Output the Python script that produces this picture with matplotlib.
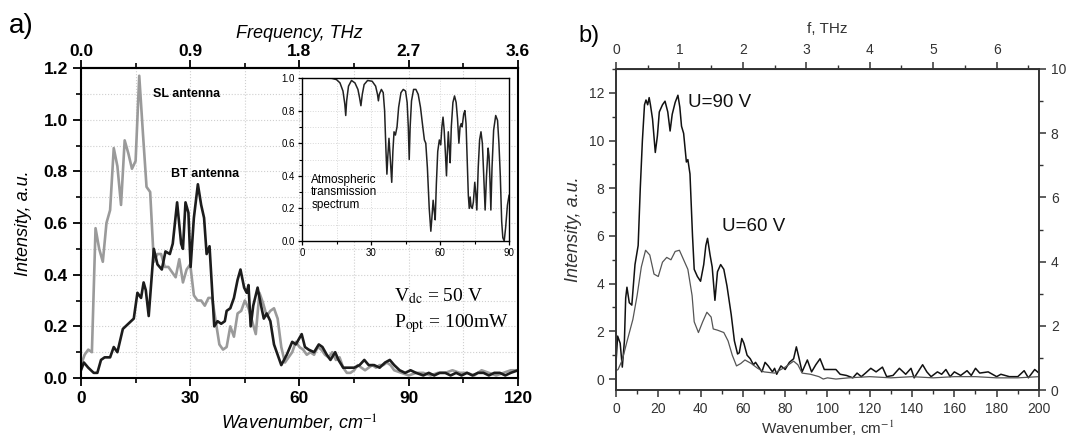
import matplotlib
matplotlib.use("Agg")
import matplotlib.pyplot as plt
from matplotlib.ticker import MultipleLocator

plt.rcParams['font.family'] = ['Liberation Sans', 'DejaVu Sans']
plt.rcParams['mathtext.fontset'] = 'stix'

# ---- panel a: THz emission of SL and BT antennas ----
sl_wn = list(range(0, 87)) + list(range(88, 121, 2))
sl_val = [0.05, 0.09, 0.11, 0.10, 0.58, 0.50, 0.45, 0.60, 0.65, 0.89,
          0.82, 0.67, 0.92, 0.87, 0.81, 0.84, 1.17, 0.95, 0.74, 0.72,
          0.45, 0.48, 0.48, 0.43, 0.43, 0.41, 0.39, 0.46, 0.37, 0.42,
          0.44, 0.32, 0.30, 0.30, 0.28, 0.31, 0.31, 0.22, 0.13, 0.11,
          0.12, 0.20, 0.16, 0.25, 0.26, 0.30, 0.27, 0.22, 0.17, 0.33,
          0.29, 0.24, 0.26, 0.27, 0.23, 0.12, 0.06, 0.08, 0.10, 0.14,
          0.12, 0.11, 0.09, 0.10, 0.09, 0.12, 0.11, 0.09, 0.08, 0.10,
          0.07, 0.08, 0.04, 0.02, 0.02, 0.03, 0.05, 0.04, 0.03, 0.04,
          0.05, 0.04, 0.05, 0.05, 0.06, 0.05, 0.03,
          0.02, 0.01, 0.02, 0.02, 0.01, 0.02, 0.02, 0.03, 0.02, 0.02,
          0.01, 0.03, 0.02, 0.01, 0.02, 0.03, 0.03]

bt_wn = [0, 0.8, 2, 3.5, 4.5, 5.5, 6.5, 8, 9, 10, 11.5, 13, 14.5, 15.5, 16.5,
         17.2, 17.8, 18.6, 20, 21, 22.2, 23.2, 24.4, 25.2, 26.4, 27.5, 28,
         28.7, 29.5, 30.1, 31, 32.1, 33, 33.8, 34.5, 35.3, 36.6, 37.5, 38.5,
         39.5, 40, 41, 42, 43, 43.8, 44.8, 45.5, 46, 46.6, 47.3, 48.5, 49.3,
         50.2, 51, 52, 53, 55, 56.5, 58, 59, 60.6, 61.5, 62.5, 64, 65.3, 66.3,
         67.5, 68.5, 69.8, 70.7, 72, 73.5, 75, 76.5, 77.8, 79, 80.5, 82, 83.5,
         84.8, 86, 87.5, 89, 90.5, 92, 94, 95.5, 97, 98.5, 100, 101.5, 103,
         104.5, 106, 107.5, 109, 110.5, 112, 113.5, 115, 116.5, 118, 120]
bt_val = [0.03, 0.06, 0.04, 0.02, 0.02, 0.07, 0.08, 0.08, 0.12, 0.10, 0.19,
          0.21, 0.23, 0.33, 0.31, 0.37, 0.34, 0.24, 0.50, 0.44, 0.42, 0.49,
          0.48, 0.52, 0.68, 0.52, 0.50, 0.68, 0.64, 0.43, 0.62, 0.75, 0.67,
          0.62, 0.48, 0.51, 0.20, 0.22, 0.21, 0.22, 0.26, 0.27, 0.31, 0.38,
          0.42, 0.35, 0.33, 0.36, 0.20, 0.28, 0.35, 0.29, 0.23, 0.25, 0.22,
          0.13, 0.05, 0.09, 0.14, 0.13, 0.17, 0.12, 0.11, 0.10, 0.13, 0.12,
          0.09, 0.07, 0.10, 0.07, 0.04, 0.04, 0.04, 0.05, 0.07, 0.05, 0.05,
          0.04, 0.06, 0.07, 0.05, 0.03, 0.02, 0.03, 0.02, 0.01, 0.02, 0.01,
          0.02, 0.02, 0.01, 0.02, 0.01, 0.02, 0.01, 0.02, 0.02, 0.01, 0.02,
          0.02, 0.01, 0.02, 0.03]

# inset: atmospheric transmission
atm_wn = [10.5, 13, 15, 16.5, 17.8, 18.6, 19, 19.4, 20.2, 21.5, 23, 24.3, 25,
          25.6, 26.2, 27, 28.5, 30.5, 32, 32.8, 33.2, 33.6, 34.5, 35.3, 35.9,
          36.5, 36.9, 37.3, 37.8, 38.3, 39, 39.5, 40, 40.6, 41.3, 42, 43, 44,
          45, 45.7, 46.2, 46.6, 47, 47.6, 48.5, 49.5, 50.5, 51.5, 52.5, 53.2,
          53.8, 54.5, 55.3, 56, 56.5, 57, 57.5, 57.9, 58.4, 59, 59.7, 60.3,
          60.8, 61.3, 61.8, 62.4, 62.8, 63.2, 63.6, 64.1, 64.4, 64.9, 65.6,
          66.3, 67, 67.6, 68.2, 68.7, 69.2, 69.6, 70.3, 70.8, 71.3, 71.8,
          72.3, 72.7, 73.1, 73.5, 74, 74.5, 75.1, 75.5, 76, 76.6, 77.2, 77.8,
          78.4, 79, 79.6, 80.2, 80.9, 81.3, 81.7, 82.1, 82.6, 83.3, 84.2, 85,
          85.6, 86.2, 86.8, 87.3, 87.9, 88.5, 89.3, 90]
atm_val = [1.0, 0.998, 0.99, 0.97, 0.92, 0.84, 0.77, 0.86, 0.95, 0.985, 0.97,
           0.93, 0.88, 0.83, 0.90, 0.96, 0.985, 0.98, 0.95, 0.90, 0.86, 0.90,
           0.93, 0.91, 0.80, 0.55, 0.41, 0.52, 0.63, 0.52, 0.36, 0.55, 0.67,
           0.65, 0.70, 0.82, 0.91, 0.93, 0.92, 0.85, 0.70, 0.50, 0.70, 0.86,
           0.93, 0.93, 0.90, 0.82, 0.70, 0.62, 0.60, 0.45, 0.20, 0.06, 0.15,
           0.25, 0.18, 0.13, 0.35, 0.55, 0.62, 0.59, 0.70, 0.76, 0.68, 0.52,
           0.40, 0.55, 0.67, 0.55, 0.48, 0.70, 0.85, 0.89, 0.85, 0.75, 0.60,
           0.70, 0.72, 0.70, 0.78, 0.80, 0.72, 0.50, 0.28, 0.20, 0.27, 0.21,
           0.20, 0.24, 0.36, 0.30, 0.19, 0.45, 0.62, 0.67, 0.60, 0.40, 0.19,
           0.40, 0.57, 0.52, 0.38, 0.19, 0.45, 0.68, 0.77, 0.74, 0.60, 0.40,
           0.12, 0.02, 0.0, 0.08, 0.22, 0.28]

# ---- panel b: spectra at two bias voltages ----
u90_wn = [0, 0.8, 2, 3, 4, 4.6, 5.2, 6.3, 7.5, 9, 10.5, 11.5, 12.5, 13.5, 14.2,
          15, 15.7, 16.3, 17.3, 18.6, 19.6, 20.5, 22, 23.2, 24.5, 25.6, 26.6,
          28, 29.3, 30.2, 31, 32, 33.3, 34, 35, 36.2, 37, 38.5, 40, 41.5, 42.5,
          43.3, 44.5, 45.5, 46.8, 48, 49.5, 51, 52.5, 54.5, 56, 57.5, 58.3,
          59.5, 60.5, 62, 63.5, 65, 66, 67.5, 69, 70.5, 72, 74, 75, 76, 78, 80,
          82, 84, 85.3, 86.5, 88, 90.5, 92.5, 94.5, 96.5, 98.5, 100, 104, 106,
          109, 112, 114, 116, 118, 120.5, 123, 126, 128, 131, 134, 137, 139.5,
          141, 145, 147, 149, 152, 154, 156, 158, 160, 163, 166, 168, 170, 172,
          176, 180, 182, 186, 190, 193, 195, 198, 200]
u90_val = [0.65, 1.8, 1.5, 0.5, 1.6, 3.4, 3.85, 3.2, 3.1, 4.8, 5.6, 8.0, 10.0,
           11.5, 11.7, 11.5, 11.8, 11.5, 10.9, 9.5, 10.2, 11.2, 11.5, 11.65,
           11.2, 10.4, 11.1, 11.6, 11.9, 11.4, 10.6, 10.3, 9.1, 9.2, 8.6, 6.0,
           4.6, 4.3, 4.1, 4.8, 5.6, 5.9, 5.2, 4.7, 3.3, 4.5, 4.8, 4.6, 3.9, 2.7,
           1.6, 1.05, 1.1, 1.7, 1.5, 1.0, 0.85, 0.6, 0.7, 0.5, 0.3, 0.7, 0.55,
           0.3, 0.45, 0.2, 0.55, 0.4, 0.7, 0.85, 1.35, 0.9, 0.3, 0.8, 0.3, 0.6,
           0.85, 0.4, 0.4, 0.4, 0.2, 0.15, 0.05, 0.25, 0.1, 0.25, 0.45, 0.3,
           0.5, 0.1, 0.15, 0.45, 0.2, 0.45, 0.05, 0.6, 0.3, 0.1, 0.3, 0.2, 0.4,
           0.1, 0.3, 0.15, 0.35, 0.15, 0.45, 0.25, 0.3, 0.1, 0.2, 0.1, 0.1,
           0.35, 0.05, 0.4, 0.25]

u60_wn = [0, 1, 3, 5, 8, 10, 12, 14, 16, 18, 20, 22, 24, 26, 28, 30, 32, 34,
          36, 37, 39, 41, 43, 45, 46, 48, 51, 53, 55, 57, 59, 61, 64, 67, 70,
          75, 80, 84, 86, 88, 92, 96, 98, 100, 104, 110, 120, 130, 140, 150,
          160, 170, 180, 190, 200]
u60_val = [0.35, 0.4, 0.8, 1.5, 2.5, 3.5, 4.7, 5.4, 5.2, 4.4, 4.3, 4.9, 5.1,
           5.0, 5.35, 5.4, 5.0, 4.6, 3.5, 2.4, 1.95, 2.4, 2.8, 2.6, 2.1, 2.05,
           1.95, 1.6, 1.0, 0.55, 0.65, 0.8, 0.65, 0.45, 0.3, 0.25, 0.5, 0.75,
           0.6, 0.25, 0.2, 0.1, 0.0, 0.05, 0.0, 0.05, 0.1, 0.05, 0.1, 0.05,
           0.1, 0.1, 0.05, 0.05, 0.1]

fig = plt.figure(figsize=(10.81, 4.44), dpi=100)

# ================= panel a =================
ax = fig.add_axes([0.0749, 0.1486, 0.4043, 0.6982])
ax.plot(sl_wn, sl_val, color='#9a9a9a', lw=1.9)
ax.plot(bt_wn, bt_val, color='#1c1c1c', lw=1.9)
ax.set_xlim(0, 120)
ax.set_ylim(0, 1.2)
ax.xaxis.set_major_locator(MultipleLocator(30))
ax.xaxis.set_minor_locator(MultipleLocator(15))
ax.yaxis.set_major_locator(MultipleLocator(0.2))
ax.yaxis.set_minor_locator(MultipleLocator(0.1))
ax.yaxis.set_major_formatter(matplotlib.ticker.FormatStrFormatter('%.1f'))
ax.grid(which='both', color='#cfcfcf', ls=':', lw=0.8)
ax.set_axisbelow(True)
ax.tick_params(which='major', direction='out', length=6, width=1.3,
               labelsize=12.5)
ax.tick_params(which='minor', direction='out', length=3.5, width=1.2)
for lab in ax.get_xticklabels() + ax.get_yticklabels():
    lab.set_fontweight('bold')
for sp in ax.spines.values():
    sp.set_linewidth(1.5)
ax.set_xlabel('Wavenumber, cm$^{-1}$', fontsize=13, style='italic',
              labelpad=5)
ax.set_ylabel('Intensity, a.u.', fontsize=13, style='italic', labelpad=8)

top = ax.secondary_xaxis('top', functions=(lambda w: w * 0.03,
                                           lambda f: f / 0.03))
top.set_xticks([0.0, 0.9, 1.8, 2.7, 3.6])
top.set_xticks([0.45, 1.35, 2.25, 3.15], minor=True)
top.xaxis.set_major_formatter(matplotlib.ticker.FormatStrFormatter('%.1f'))
top.tick_params(which='major', direction='out', length=6, width=1.3,
                labelsize=12.5, pad=0.5)
top.tick_params(which='minor', direction='out', length=3.5, width=1.2)
for lab in top.get_xticklabels():
    lab.set_fontweight('bold')
top.spines['top'].set_linewidth(1.5)
top.set_xlabel('Frequency, THz', fontsize=13, style='italic', labelpad=4)

ax.text(29, 1.1, 'SL antenna', fontsize=9, fontweight='bold',
        ha='center', va='center')
ax.text(34, 0.79, 'BT antenna', fontsize=9, fontweight='bold',
        ha='center', va='center')
ax.text(86, 0.315, r'V$_{\mathrm{dc}}$ = 50 V', fontsize=14,
        family='Liberation Serif', va='center')
ax.text(86, 0.21, r'P$_{\mathrm{opt}}$ = 100mW', fontsize=14,
        family='Liberation Serif', va='center')

# inset
ins = fig.add_axes([0.2794, 0.4572, 0.1915, 0.3671])
ins.plot(atm_wn, atm_val, color='#222222', lw=1.1)
ins.set_xlim(0, 90)
ins.set_ylim(0, 1.0)
ins.xaxis.set_major_locator(MultipleLocator(30))
ins.xaxis.set_minor_locator(MultipleLocator(15))
ins.yaxis.set_major_locator(MultipleLocator(0.2))
ins.yaxis.set_minor_locator(MultipleLocator(0.1))
ins.yaxis.set_major_formatter(matplotlib.ticker.FormatStrFormatter('%.1f'))
ins.grid(which='both', color='#d8d8d8', ls=':', lw=0.7)
ins.set_axisbelow(True)
ins.tick_params(which='major', direction='out', length=3, width=0.9,
                labelsize=7, pad=2)
ins.tick_params(which='minor', direction='out', length=2, width=0.8)
for sp in ins.spines.values():
    sp.set_linewidth(1.0)
ins.text(4, 0.3, 'Atmospheric\ntransmission\nspectrum', fontsize=8.5,
         va='center', ha='left', linespacing=1.05)

fig.text(0.008, 0.925, 'a)', fontsize=20)

# ================= panel b =================
bx = fig.add_axes([0.5698, 0.1216, 0.3913, 0.723])
bx.plot(u90_wn, u90_val, color='#111111', lw=1.1)
bx.plot(u60_wn, u60_val, color='#555555', lw=0.9)
bx.set_xlim(0, 200)
bx.set_ylim(-0.46, 13.0)
bx.xaxis.set_major_locator(MultipleLocator(20))
bx.xaxis.set_minor_locator(MultipleLocator(10))
bx.yaxis.set_major_locator(MultipleLocator(2))
bx.yaxis.set_minor_locator(MultipleLocator(1))
bx.tick_params(which='major', direction='out', length=5, width=1.1,
               labelsize=10, colors='#333333')
bx.tick_params(which='minor', direction='out', length=3, width=1.0,
               colors='#333333')
for sp in bx.spines.values():
    sp.set_linewidth(1.2)
    sp.set_color('#333333')
bx.set_xlabel('Wavenumber, cm$^{-1}$', fontsize=11, color='#333333',
              labelpad=2)
bx.set_ylabel('Intensity, a.u.', fontsize=13, style='italic',
              color='#333333', labelpad=5)

btop = bx.secondary_xaxis('top', functions=(lambda w: w / 30.0,
                                            lambda f: f * 30.0))
btop.xaxis.set_major_locator(MultipleLocator(1))
btop.xaxis.set_minor_locator(MultipleLocator(0.5))
btop.tick_params(which='major', direction='out', length=5, width=1.1,
                 labelsize=10, colors='#333333')
btop.tick_params(which='minor', direction='out', length=3, width=1.0,
                 colors='#333333')
btop.set_xlabel('f, THz', fontsize=11, color='#333333', labelpad=7)

br = bx.twinx()
br.set_ylim(0, 10)
br.yaxis.set_major_locator(MultipleLocator(2))
br.yaxis.set_minor_locator(MultipleLocator(1))
br.tick_params(which='major', direction='out', length=5, width=1.1,
               labelsize=10, colors='#333333')
br.tick_params(which='minor', direction='out', length=3, width=1.0,
               colors='#333333')
for sp in br.spines.values():
    sp.set_linewidth(1.2)
    sp.set_color('#333333')

bx.text(34, 11.6, 'U=90 V', fontsize=13.5, va='center', color='#111111')
bx.text(50, 6.4, 'U=60 V', fontsize=13.5, va='center', color='#111111')

fig.text(0.535, 0.905, 'b)', fontsize=17)

fig.savefig('out.png', dpi=100)
